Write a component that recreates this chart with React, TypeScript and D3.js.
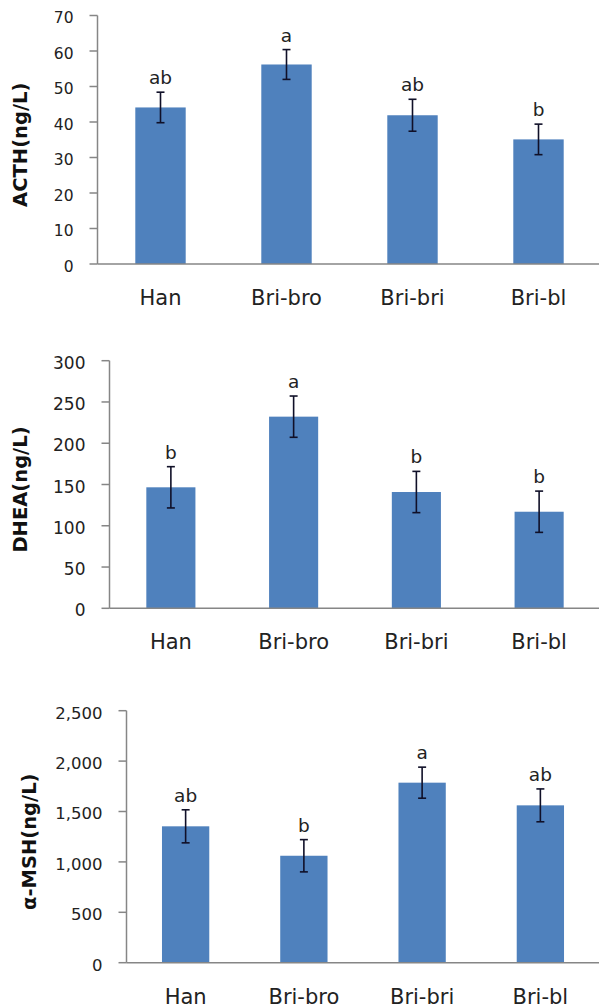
import React from "react";
import * as d3 from "d3";

const categories = ["Han", "Bri-bro", "Bri-bri", "Bri-bl"];

const acthMeans = [44.1, 56.2, 41.9, 35.1];
const acthErrors = [4.3, 4.2, 4.5, 4.3];
const acthLetters = ["ab", "a", "ab", "b"];
const acthTicks = [0, 10, 20, 30, 40, 50, 60, 70];

const dheaMeans = [146.6, 232.2, 140.9, 117];
const dheaErrors = [25, 25, 25, 25];
const dheaLetters = ["b", "a", "b", "b"];
const dheaTicks = [0, 50, 100, 150, 200, 250, 300];

const mshMeans = [1353, 1061, 1786, 1561];
const mshErrors = [164, 160, 154, 163];
const mshLetters = ["ab", "b", "a", "ab"];
const mshTicks = [0, 500, 1000, 1500, 2000, 2500];

const panels = [
  { title: "ACTH(ng/L)", means: acthMeans, errors: acthErrors, letters: acthLetters, ticks: acthTicks, fmt: d3.format("d"),
    layout: { x0: 97.5, x1: 601.5, yBase: 264, yTop: 15.5, titleX: 27, tickFs: 15.5 } },
  { title: "DHEA(ng/L)", means: dheaMeans, errors: dheaErrors, letters: dheaLetters, ticks: dheaTicks, fmt: d3.format("d"),
    layout: { x0: 109.5, x1: 600.5, yBase: 608.3, yTop: 360.7, titleX: 27, tickFs: 17 } },
  { title: "α-MSH(ng/L)", means: mshMeans, errors: mshErrors, letters: mshLetters, ticks: mshTicks, fmt: d3.format(","),
    layout: { x0: 126.5, x1: 599.5, yBase: 962.7, yTop: 710.7, titleX: 36, tickFs: 16.5 } },
];

const FONT = "'DejaVu Sans', sans-serif";
const AXIS = "#868686";
const BAR = "#4F81BD";
const ERR = "#101028";
const TEXT = "#222";

function Panel({ p }: { p: typeof panels[number] }) {
  const L = p.layout;
  const x = d3.scaleBand<string>().domain(categories).range([L.x0, L.x1]).paddingInner(0.6).paddingOuter(0.3);
  const maxT = p.ticks[p.ticks.length - 1];
  const y = d3.scaleLinear().domain([0, maxT]).range([L.yBase, L.yTop]);
  const mid = (L.yBase + L.yTop) / 2 + 5;
  return (
    <g>
      {categories.map((c, i) => {
        const bx = x(c)!;
        const cx = bx + x.bandwidth() / 2;
        const top = y(p.means[i] + p.errors[i]);
        const bot = y(p.means[i] - p.errors[i]);
        return (
          <g key={c}>
            <rect x={bx} y={y(p.means[i])} width={x.bandwidth()} height={L.yBase - y(p.means[i])} fill={BAR} />
            <line x1={cx} x2={cx} y1={top} y2={bot} stroke={ERR} strokeWidth={1.6} />
            <line x1={cx - 4} x2={cx + 4} y1={top} y2={top} stroke={ERR} strokeWidth={1.6} />
            <line x1={cx - 4} x2={cx + 4} y1={bot} y2={bot} stroke={ERR} strokeWidth={1.6} />
            <text x={cx} y={top - 8} textAnchor="middle" fontFamily={FONT} fontSize={18.5} fill={TEXT}>{p.letters[i]}</text>
            <text x={cx} y={L.yBase + 41} textAnchor="middle" fontFamily={FONT} fontSize={21} fill={TEXT}>{c}</text>
          </g>
        );
      })}
      <line x1={L.x0} x2={599} y1={L.yBase} y2={L.yBase} stroke={AXIS} strokeWidth={1.5} />
      <line x1={L.x0} x2={L.x0} y1={L.yTop} y2={L.yBase} stroke={AXIS} strokeWidth={1.5} />
      {p.ticks.map((t) => (
        <g key={t}>
          <line x1={L.x0 - 8} x2={L.x0} y1={y(t)} y2={y(t)} stroke={AXIS} strokeWidth={1.5} />
          <text x={L.x0 - 24} y={y(t) + 2} dy="0.36em" textAnchor="end" fontFamily={FONT} fontSize={L.tickFs} fill={TEXT}>{p.fmt(t)}</text>
        </g>
      ))}
      <text transform={`translate(${L.titleX},${mid}) rotate(-90)`} textAnchor="middle" fontFamily={FONT} fontWeight="bold" fontSize={19.5} fill="#111">{p.title}</text>
    </g>
  );
}

export default function App() {
  return (
    <svg width={599} height={1008} style={{ position: "absolute", left: 0, top: 0, background: "#fff" }}>
      <rect width={599} height={1008} fill="#fff" />
      {panels.map((p) => (
        <Panel key={p.title} p={p} />
      ))}
    </svg>
  );
}
